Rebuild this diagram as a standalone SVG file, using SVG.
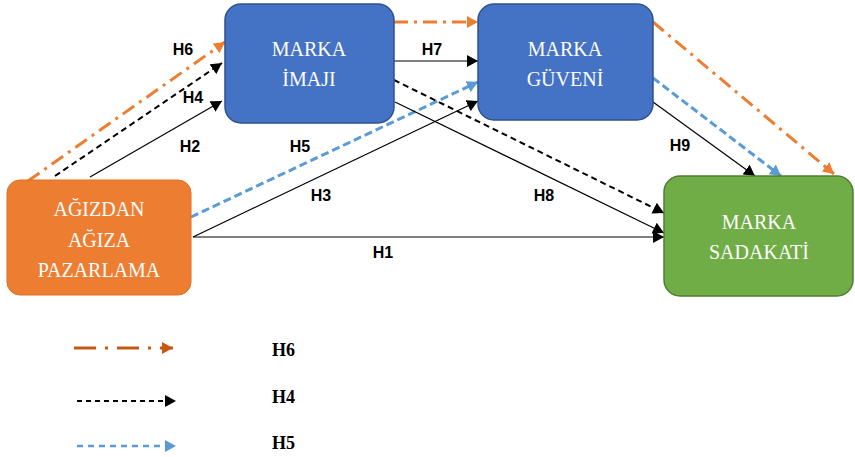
<svg xmlns="http://www.w3.org/2000/svg" width="855" height="457" viewBox="0 0 855 457">
<style>
.nt{font-family:"Liberation Serif","Times New Roman",serif;font-size:20px;fill:#fff;text-anchor:middle}
.lb{font-family:"Liberation Sans",Arial,sans-serif;font-size:16px;font-weight:bold;fill:#000;text-anchor:middle}
.lg{font-family:"Liberation Serif","Times New Roman",serif;font-size:18px;font-weight:bold;fill:#000}
.thin{stroke:#000;stroke-width:1.2;fill:none}
.blk{stroke:#000;stroke-width:2;stroke-dasharray:6 4;fill:none}
.org{stroke:#ED7D31;stroke-width:3;stroke-dasharray:14 6 3 6;fill:none}
.blu{stroke:#5B9BD5;stroke-width:3;stroke-dasharray:8 4;fill:none}
</style>
<defs>
<marker id="ak" markerUnits="userSpaceOnUse" markerWidth="12" markerHeight="12" refX="11" refY="6" orient="auto"><path d="M0,0 L11,6 L0,12 Z" fill="#000"/></marker>
<marker id="ao" markerUnits="userSpaceOnUse" markerWidth="12" markerHeight="12" refX="11" refY="6" orient="auto"><path d="M0,0 L11,6 L0,12 Z" fill="#ED7D31"/></marker>
<marker id="ab" markerUnits="userSpaceOnUse" markerWidth="12" markerHeight="12" refX="11" refY="6" orient="auto"><path d="M0,0 L11,6 L0,12 Z" fill="#5B9BD5"/></marker>
<marker id="ad" markerUnits="userSpaceOnUse" markerWidth="12" markerHeight="12" refX="11" refY="6" orient="auto"><path d="M0,0 L11,6 L0,12 Z" fill="#C65911"/></marker>
</defs>

<g id="connectors">
<line class="org" x1="28" y1="181" x2="225" y2="42" marker-end="url(#ao)"/>
<line class="blk" x1="55" y1="176" x2="222" y2="63" marker-end="url(#ak)"/>
<line class="thin" x1="90" y1="177" x2="222" y2="101" marker-end="url(#ak)"/>
<line class="blu" x1="191" y1="217" x2="478" y2="82" marker-end="url(#ab)"/>
<line class="thin" x1="193" y1="237" x2="478" y2="101" marker-end="url(#ak)"/>
<line class="thin" x1="193" y1="237" x2="664" y2="237" marker-end="url(#ak)"/>
<line class="org" x1="394" y1="22" x2="478" y2="22" marker-end="url(#ao)"/>
<line class="thin" x1="394" y1="61" x2="478" y2="61" marker-end="url(#ak)"/>
<line class="blk" x1="394" y1="80" x2="664" y2="213" marker-end="url(#ak)"/>
<line class="thin" x1="395" y1="102" x2="664" y2="233" marker-end="url(#ak)"/>
<line class="thin" x1="653" y1="102" x2="755" y2="176" marker-end="url(#ak)"/>
<line class="blu" x1="653" y1="78" x2="781" y2="176" marker-end="url(#ab)"/>
<line class="org" x1="653" y1="22" x2="834" y2="174" marker-end="url(#ao)"/>
</g>

<g id="node-agizdan">
<rect x="7" y="180" width="184" height="115" rx="13" fill="#ED7D31" stroke="#E07020" stroke-width="1"/>
<text class="nt" x="99" y="216">AĞIZDAN</text>
<text class="nt" x="99" y="247">AĞIZA</text>
<text class="nt" x="99" y="277">PAZARLAMA</text>
</g>
<g id="node-imaji">
<rect x="225" y="4" width="169" height="119" rx="16" fill="#4472C4" stroke="#2F528F" stroke-width="1.5"/>
<text class="nt" x="309" y="56">MARKA</text>
<text class="nt" x="309" y="86">İMAJI</text>
</g>
<g id="node-guveni">
<rect x="478" y="4" width="175" height="116" rx="16" fill="#4472C4" stroke="#2F528F" stroke-width="1.5"/>
<text class="nt" x="565" y="56">MARKA</text>
<text class="nt" x="565" y="86">GÜVENİ</text>
</g>
<g id="node-sadakati">
<rect x="664" y="176" width="189" height="120" rx="16" fill="#70AD47" stroke="#507E32" stroke-width="1.5"/>
<text class="nt" x="759" y="229">MARKA</text>
<text class="nt" x="759" y="259">SADAKATİ</text>
</g>

<g id="labels">
<text class="lb" x="183" y="55">H6</text>
<text class="lb" x="193" y="103">H4</text>
<text class="lb" x="190" y="152">H2</text>
<text class="lb" x="300" y="152">H5</text>
<text class="lb" x="321" y="201">H3</text>
<text class="lb" x="383" y="258">H1</text>
<text class="lb" x="432" y="55">H7</text>
<text class="lb" x="680" y="151">H9</text>
<text class="lb" x="544" y="201">H8</text>
</g>

<g id="legend">
<line x1="74" y1="348" x2="173" y2="348" stroke="#C65911" stroke-width="3" stroke-dasharray="22 9 3 9" marker-end="url(#ad)"/>
<line x1="77" y1="401" x2="176" y2="401" stroke="#000" stroke-width="2" stroke-dasharray="5 4" marker-end="url(#ak)"/>
<line x1="77" y1="446" x2="176" y2="446" stroke="#5B9BD5" stroke-width="2.5" stroke-dasharray="6 5" marker-end="url(#ab)"/>
<text class="lg" x="272" y="356">H6</text>
<text class="lg" x="272" y="403">H4</text>
<text class="lg" x="272" y="449">H5</text>
</g>
</svg>
